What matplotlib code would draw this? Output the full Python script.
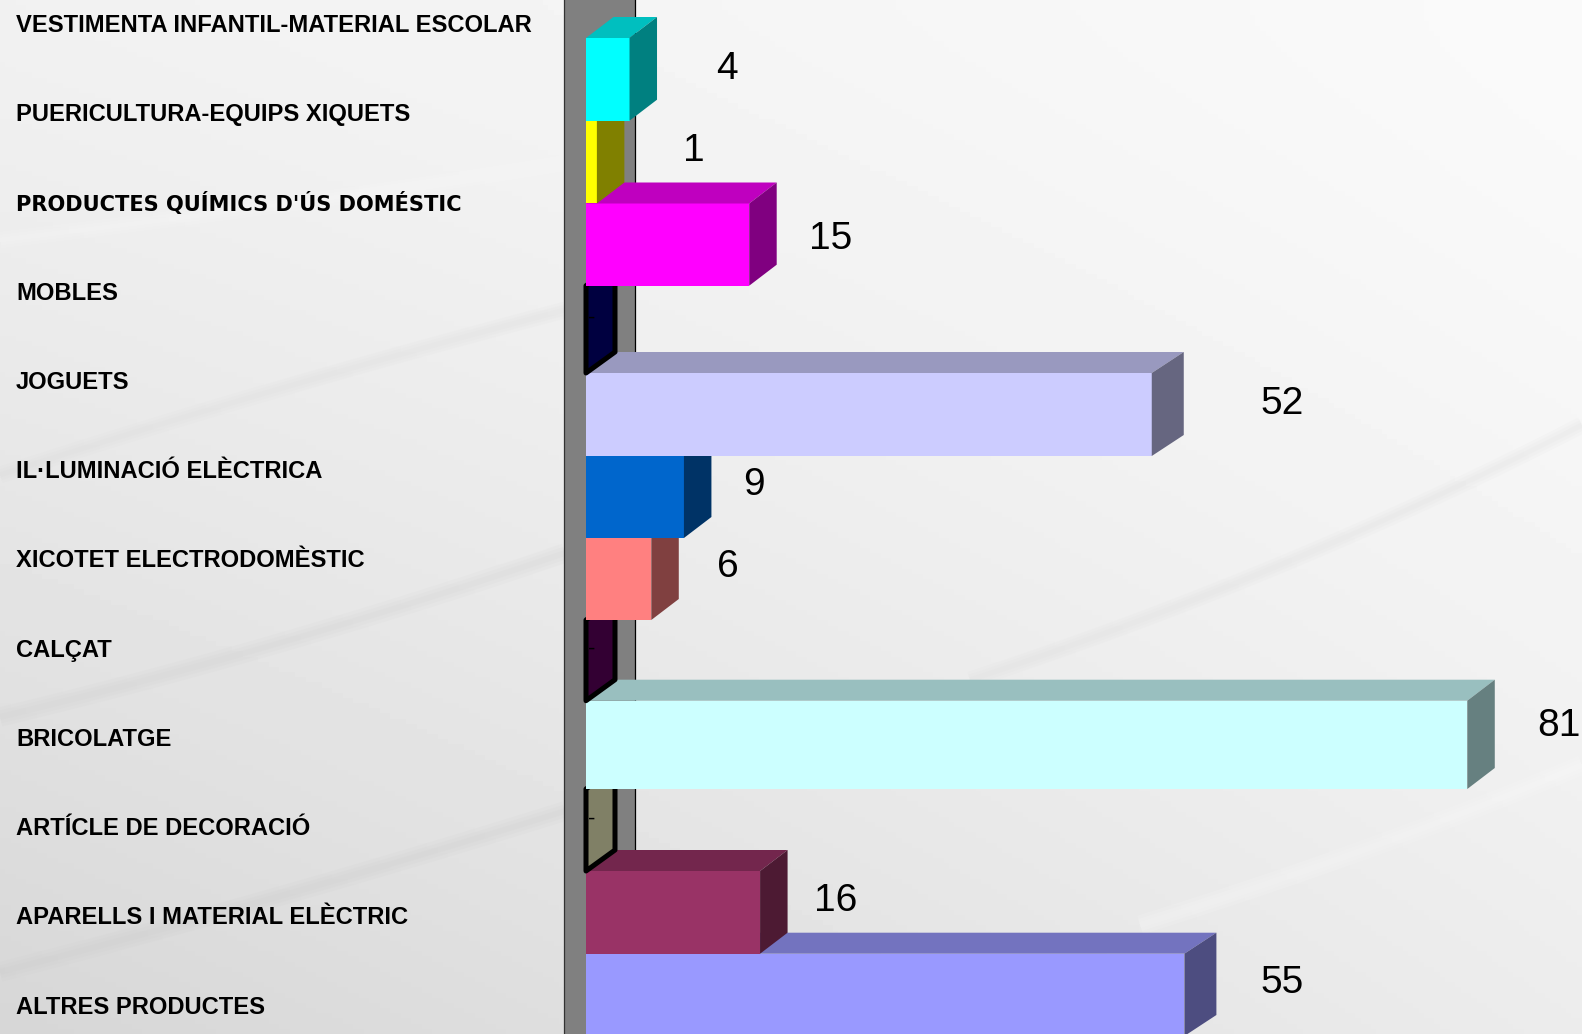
import numpy as np
import matplotlib
matplotlib.use('Agg')
import matplotlib.pyplot as plt
from matplotlib.colors import to_rgb

categories = ['VESTIMENTA INFANTIL-MATERIAL ESCOLAR', 'PUERICULTURA-EQUIPS XIQUETS',
              "PRODUCTES QUÍMICS D'ÚS DOMÉSTIC", 'MOBLES', 'JOGUETS', 'IL·LUMINACIÓ ELÈCTRICA',
              'XICOTET ELECTRODOMÈSTIC', 'CALÇAT', 'BRICOLATGE', 'ARTÍCLE DE DECORACIÓ',
              'APARELLS I MATERIAL ELÈCTRIC', 'ALTRES PRODUCTES']
values = [4, 1, 15, 0, 52, 9, 6, 0, 81, 0, 16, 55]
colors = ['#00FFFF', '#FFFF00', '#FF00FF', '#000080', '#CCCCFF', '#0066CC',
          '#FF8080', '#660066', '#CCFFFF', '#FFFFCC', '#993366', '#9999FF']

# espai entre la barra i l'etiqueta, en pixels
label_gap = [97, 97, 81, 0, 130, 70, 77, 0, 92, 0, 76, 98]
label_dy = [0, -1, 4, 0, 0, -2, -2, 0, -9, 0, -1, -2]
depth_x = [27.5, 27.5, 27.5, 29, 32, 27.5, 27.5, 29, 27.5, 29, 27.5, 32]
# les files de l'original no son del tot regulars
edge_nudge = [0, -0.5, -0.9, -1.9, 2.2, 2, 0.8, -0.4, -2.9, 2.2, 1, 0.5, -0.4]

W, H = 1582, 1034
PX_PER_UNIT = 10.88
PX_PER_ROW = 83.2
X0 = 586
Y0 = 79.6
DEPTH_Y = 21

fig = plt.figure(figsize=(W / 100, H / 100), dpi=100)

# fons
bg = fig.add_axes([0, 0, 1, 1], zorder=0)
xx, yy = np.meshgrid(np.linspace(0, 1, 300), np.linspace(0, 1, 200))
shade = 0.945 + 0.035 * xx - 0.105 * yy ** 1.2 + 0.05 * xx * yy
bg.imshow(shade, cmap='gray', vmin=0, vmax=1, extent=[0, W, H, 0], aspect='auto')
for (x1, y1, cx, cy, x2, y2, c, lw, a) in [
        (0, 240, 420, 190, 640, 150, 'white', 12, 0.16),
        (640, 150, 880, 110, 1010, 0, 'white', 16, 0.16),
        (1290, 220, 1410, 130, 1500, 0, 'white', 14, 0.10),
        (0, 475, 260, 390, 565, 310, '#cfcfcf', 12, 0.14),
        (0, 717, 280, 650, 565, 553, '#c8c8c8', 14, 0.18),
        (0, 972, 280, 900, 565, 811, '#c4c4c4', 14, 0.18),
        (970, 680, 1290, 575, 1582, 425, '#d0d0d0', 12, 0.14),
        (1140, 925, 1380, 850, 1582, 765, 'white', 14, 0.22)]:
    t = np.linspace(0, 1, 60)
    sx = (1 - t) ** 2 * x1 + 2 * t * (1 - t) * cx + t ** 2 * x2
    sy = (1 - t) ** 2 * y1 + 2 * t * (1 - t) * cy + t ** 2 * y2
    for k in (1.0, 0.65, 0.3):
        bg.plot(sx, sy, color=c, lw=lw * k, alpha=a / 2, solid_capstyle='butt')
bg.set_xlim(0, W)
bg.set_ylim(H, 0)
bg.axis('off')

# grafic: x en unitats, y en files
ax = fig.add_axes([0, 0, 1, 1], zorder=1)
ax.patch.set_alpha(0)
ax.set_xlim(-X0 / PX_PER_UNIT, (W - X0) / PX_PER_UNIT)
ax.set_ylim((H - Y0) / PX_PER_ROW, -Y0 / PX_PER_ROW)
ax.axis('off')

wall_l = (564 - X0) / PX_PER_UNIT
wall_r = (635 - X0) / PX_PER_UNIT
ax.axvspan(wall_l, wall_r, color='#808080', lw=0, zorder=1)
ax.axvline(wall_l, color='#333333', lw=0.9, zorder=1)
ax.axvline(wall_r, color='black', lw=0.9, zorder=1)

dy = DEPTH_Y / PX_PER_ROW
# de baix a dalt: cada barra tapa la de sota
for i in range(len(values) - 1, -1, -1):
    v = values[i]
    rgb = np.array(to_rgb(colors[i]))
    dx = depth_x[i] / PX_PER_UNIT
    top = i - 0.5 + edge_nudge[i] / PX_PER_ROW
    bot = i + 0.5 + edge_nudge[i + 1] / PX_PER_ROW
    z = 20 + (len(values) - i)
    if v == 0:
        ax.fill([0, 0, dx, dx], [bot, top, top - dy, bot - dy], facecolor=rgb * 0.5,
                edgecolor='black', lw=3.6, joinstyle='round', zorder=z)
        ax.text(0.55, (top + bot) / 2 - 11 / PX_PER_ROW, '-', fontsize=16, color='black',
                ha='center', va='center', family='Liberation Sans', zorder=z)
        continue
    ax.barh((top + bot) / 2, v, height=bot - top, color=rgb, lw=0, zorder=z)
    ax.fill([0, dx, v + dx, v], [top, top - dy, top - dy, top], color=rgb * 0.75, lw=0, zorder=z)
    ax.fill([v, v + dx, v + dx, v], [top, top - dy, bot - dy, bot], color=rgb * 0.5, lw=0, zorder=z)
    ax.text(v + label_gap[i] / PX_PER_UNIT, (top + bot) / 2 + label_dy[i] / PX_PER_ROW, str(v),
            fontsize=28, ha='center', va='baseline', family='Liberation Sans',
            color='black', zorder=40)

# categories
for i, name in enumerate(categories):
    y = 1 - (25.4 + 89.25 * i) / H
    if name.startswith('PRODUCTES'):
        fig.text(16 / W, y, name, fontsize=15.1, fontweight='bold', family='DejaVu Sans',
                 va='center', zorder=5)
    else:
        fig.text(16 / W, y, name, fontsize=17.1, fontweight='bold', family='Liberation Sans',
                 va='center', zorder=5)

fig.savefig('out.png', dpi=100)
